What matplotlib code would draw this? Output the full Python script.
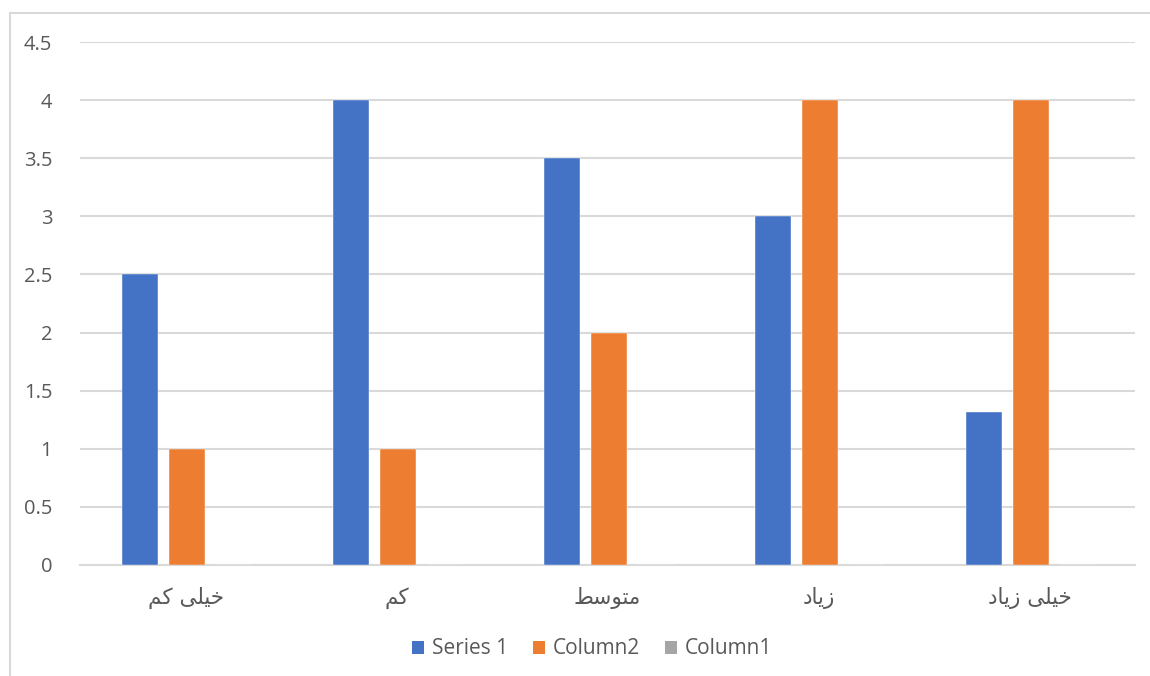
import matplotlib
matplotlib.use("Agg")
import matplotlib.pyplot as plt
from matplotlib.patches import Rectangle, Patch

# ---- data ----
categories_logical = ["خیلی کم", "کم", "متوسط", "زیاد", "خیلی زیاد"]
# visual-order, pre-shaped forms of the same labels (matplotlib has no Arabic shaping)
categories_visual = [
    "\uFEE2\uFB90 \uFBFD\uFEE0\uFBFF\uFEA7",
    "\uFEE2\uFB90",
    "\uFEC2\uFEB3\uFEEE\uFE98\uFEE3",
    "\uFEA9\uFE8E\uFBFE\uFEAF",
    "\uFEA9\uFE8E\uFBFE\uFEAF \uFBFD\uFEE0\uFBFF\uFEA7",
]
series_names = ["Series 1", "Column2", "Column1"]
series1 = [2.5, 4, 3.5, 3, 1.32]
column2 = [1, 1, 2, 4, 4]
column1 = [0, 0, 0, 0, 0]
yticks = [0, 0.5, 1, 1.5, 2, 2.5, 3, 3.5, 4, 4.5]
ytick_labels = ["0", "0.5", "1", "1.5", "2", "2.5", "3", "3.5", "4", "4.5"]

colors = ["#4472C4", "#ED7D31", "#A5A5A5"]
text_color = "#595959"
grid_color = "#D9D9D9"

W, H = 1150, 676
fig = plt.figure(figsize=(W / 100, H / 100), dpi=100)

# outer chart border
fig.patches.append(Rectangle((10 / W, -0.05), 1.2, (H - 13) / H + 0.05,
                             transform=fig.transFigure, fill=False,
                             edgecolor=grid_color, linewidth=1.5))

ax = fig.add_axes([80 / W, (H - 565) / H, (1135 - 80) / W, (565 - 42) / H])

bw = 0.171
step = 0.223
shift = 0.008
x = list(range(len(categories_visual)))
for k, (vals, name) in enumerate(zip([series1, column2, column1], series_names)):
    xs = [i + (k - 1) * step + shift for i in x]
    ax.bar(xs, vals, width=bw, color=colors[k], edgecolor="#FFFFFF",
           linewidth=0.3, label=name, zorder=3)

ax.set_xlim(-0.5, 4.5)
ax.set_ylim(0, 4.5)
ax.set_yticks(yticks)
ax.set_yticklabels(ytick_labels, family=["Open Sans", "DejaVu Sans"], fontsize=14.5, color=text_color)
ax.yaxis.grid(True, color=grid_color, linewidth=1.5, zorder=0)
ax.set_axisbelow(True)
ax.tick_params(axis="y", length=0, pad=20)
ax.tick_params(axis="x", length=0, pad=16)
ax.set_xticks(x)
ax.set_xticklabels(categories_visual, family=["DejaVu Sans"], fontsize=15.5, color=text_color)
for s in ["top", "right", "left"]:
    ax.spines[s].set_visible(False)
ax.spines["bottom"].set_color(grid_color)
ax.spines["bottom"].set_linewidth(1.5)

handles = [Patch(facecolor=c, edgecolor="none") for c in colors]
leg = fig.legend(handles, series_names, loc="center", bbox_to_anchor=(592 / W, (H - 649) / H),
                 ncol=3, frameon=False, handlelength=0.6, handleheight=0.6,
                 handletextpad=0.35, columnspacing=1.2,
                 prop={"family": ["Open Sans", "DejaVu Sans"], "size": 15})
for t in leg.get_texts():
    t.set_color(text_color)

fig.savefig("out.png", dpi=100, facecolor="white")
